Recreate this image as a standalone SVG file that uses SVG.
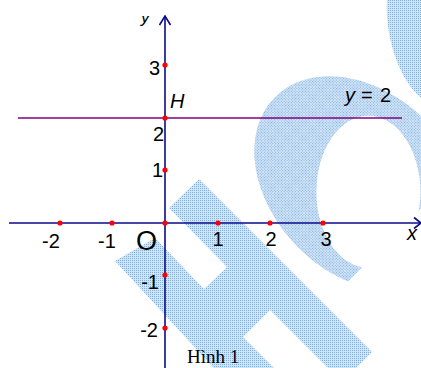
<svg xmlns="http://www.w3.org/2000/svg" width="421" height="368" viewBox="0 0 421 368">
<defs>
<pattern id="dots" width="2" height="2" patternUnits="userSpaceOnUse">
<rect width="2" height="2" fill="#d2e4f6"/>
<rect width="1" height="1" fill="#7eb0e2"/>
</pattern>
<mask id="hole">
<rect width="421" height="368" fill="#fff"/>
<ellipse cx="372" cy="185" rx="76" ry="52" transform="rotate(45 372 185)" fill="#000"/>
</mask>
<clipPath id="ycut"><rect x="130" y="16" width="40" height="20"/></clipPath>
<style>
.axis{stroke:#0a0a8a;stroke-width:1.6;fill:none}
.hline{stroke:#800080;stroke-width:1.6;fill:none}
.pt{fill:#ff0000}
.lbl{font-family:"Liberation Sans",Arial,sans-serif;font-size:20px;fill:#000}
.it{font-style:italic}
.cap{font-family:"Liberation Serif","Times New Roman",serif;font-size:19px;fill:#000}
</style>
</defs>
<rect width="421" height="368" fill="#fff"/>
<g id="watermark" fill="url(#dots)">
<path d="M115,261 L155,238 L204,289 L227,267 L169,208 L199,179 L372,352 L342,382 L270,310 L243,337 L300,394 L262,420 L115,261 Z"/>
<ellipse cx="362" cy="184" rx="123" ry="90" transform="rotate(45 362 184)" mask="url(#hole)"/>
<path d="M387,0 C385,32 396,76 421,98 L421,0 Z"/>
</g>
<g id="connectors">
<line class="hline" x1="18" y1="118" x2="402" y2="118"/>
<line class="axis" x1="9" y1="223" x2="421" y2="223"/>
<polyline class="axis" points="414,217.5 421,223 414,228.5"/>
<line class="axis" x1="165" y1="16" x2="165" y2="368"/>
<polyline class="axis" points="159.5,25 165,16 170.5,25"/>
</g>
<g id="points">
<circle class="pt" cx="60" cy="223" r="2.6"/>
<circle class="pt" cx="112" cy="223" r="2.6"/>
<circle class="pt" cx="165" cy="223" r="2.6"/>
<circle class="pt" cx="218" cy="223" r="2.6"/>
<circle class="pt" cx="270" cy="223" r="2.6"/>
<circle class="pt" cx="323" cy="223" r="2.6"/>
<circle class="pt" cx="165" cy="65" r="2.6"/>
<circle class="pt" cx="165" cy="170" r="2.6"/>
<circle class="pt" cx="165" cy="275" r="2.6"/>
<circle class="pt" cx="165" cy="328" r="2.6"/>
</g>
<g id="node-H">
<circle class="pt" cx="165" cy="118" r="2.6"/>
<text class="lbl it" x="170" y="108">H</text>
</g>
<g id="labels-y">
<text class="lbl it" x="141" y="23" style="font-size:17px" clip-path="url(#ycut)">y</text>
<text class="lbl" x="160" y="75" text-anchor="end">3</text>
<text class="lbl" x="164" y="141" text-anchor="end">2</text>
<text class="lbl" x="163" y="177" text-anchor="end">1</text>
<text class="lbl" x="159" y="289" text-anchor="end">-1</text>
<text class="lbl" x="158" y="337" text-anchor="end">-2</text>
</g>
<g id="labels-x">
<text class="lbl" x="51" y="248" text-anchor="middle">-2</text>
<text class="lbl" x="107" y="248" text-anchor="middle">-1</text>
<text class="lbl" x="136" y="250" style="font-size:27px">O</text>
<text class="lbl" x="218" y="246" text-anchor="middle">1</text>
<text class="lbl" x="271" y="246" text-anchor="middle">2</text>
<text class="lbl" x="326" y="246" text-anchor="middle">3</text>
<text class="lbl it" x="407" y="240">x</text>
</g>
<g id="line-label">
<text class="lbl"><tspan class="it" x="345" y="102">y</tspan><tspan x="361" y="102">=</tspan><tspan x="380" y="102">2</tspan></text>
</g>
<g id="caption">
<text class="cap" x="187" y="363">Hình 1</text>
</g>
</svg>
